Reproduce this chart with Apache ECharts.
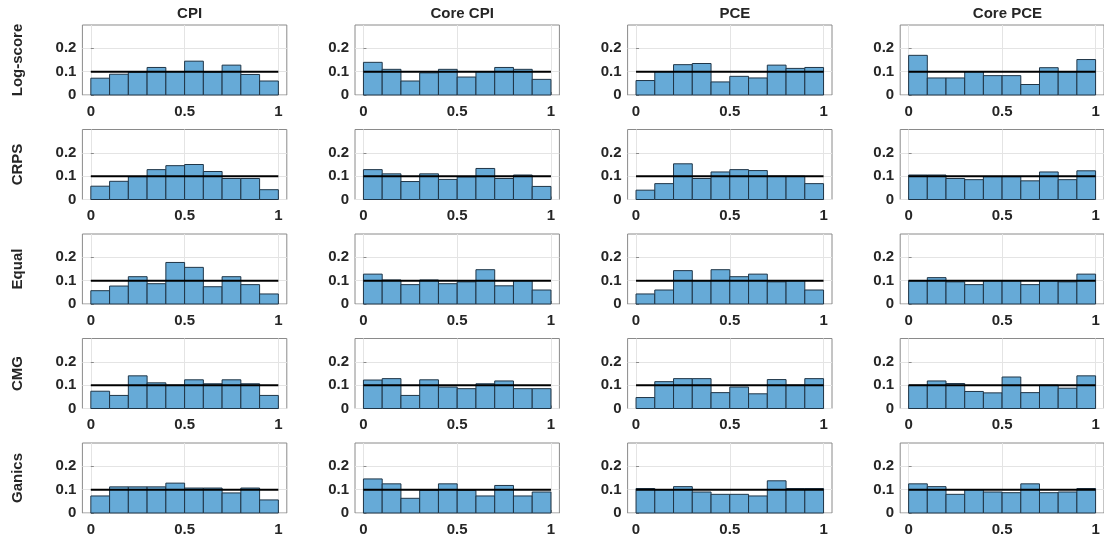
<!DOCTYPE html>
<html>
<head>
<meta charset="utf-8">
<script src="https://cdn.jsdelivr.net/npm/echarts@6/dist/echarts.min.js"></script>
<style>
  html, body { margin: 0; padding: 0; background: #fff; }
  #chart { width: 1104px; height: 537px; }
</style>
</head>
<body>
<div id="chart"></div>
<script>
// column / row titles
const targets = ['CPI', 'Core CPI', 'PCE', 'Core PCE']
const methods = ['Log-score', 'CRPS', 'Equal', 'CMG', 'Ganics']

// PIT histogram bins and ticks
const binEdges = [0, 0.1, 0.2, 0.3, 0.4, 0.5, 0.6, 0.7, 0.8, 0.9, 1]
const xTicks = [0, 0.5, 1]
const yTicks = [0, 0.1, 0.2]
const uniformLevel = 0.1

// relative frequencies per bin
const logScoreCPI = [0.072, 0.089, 0.098, 0.118, 0.1, 0.145, 0.098, 0.128, 0.088, 0.06]
const logScoreCoreCPI = [0.14, 0.11, 0.06, 0.095, 0.11, 0.077, 0.1, 0.118, 0.11, 0.067]
const logScorePCE = [0.062, 0.1, 0.13, 0.135, 0.056, 0.08, 0.073, 0.128, 0.114, 0.118]
const logScoreCorePCE = [0.17, 0.073, 0.073, 0.1, 0.083, 0.083, 0.045, 0.117, 0.1, 0.152]

const crpsCPI = [0.057, 0.078, 0.098, 0.128, 0.145, 0.15, 0.12, 0.09, 0.09, 0.042]
const crpsCoreCPI = [0.128, 0.11, 0.077, 0.11, 0.086, 0.097, 0.133, 0.09, 0.105, 0.056]
const crpsPCE = [0.04, 0.068, 0.153, 0.09, 0.118, 0.128, 0.124, 0.1, 0.1, 0.068]
const crpsCorePCE = [0.105, 0.105, 0.09, 0.085, 0.098, 0.098, 0.08, 0.118, 0.085, 0.123]

const equalCPI = [0.057, 0.077, 0.117, 0.087, 0.178, 0.157, 0.074, 0.117, 0.083, 0.043]
const equalCoreCPI = [0.128, 0.103, 0.083, 0.103, 0.087, 0.095, 0.147, 0.078, 0.1, 0.06]
const equalPCE = [0.043, 0.06, 0.143, 0.1, 0.147, 0.117, 0.128, 0.095, 0.1, 0.06]
const equalCorePCE = [0.1, 0.113, 0.095, 0.083, 0.1, 0.1, 0.083, 0.1, 0.095, 0.128]

const cmgCPI = [0.074, 0.056, 0.14, 0.11, 0.1, 0.123, 0.106, 0.123, 0.106, 0.056]
const cmgCoreCPI = [0.122, 0.128, 0.056, 0.123, 0.092, 0.085, 0.106, 0.118, 0.085, 0.085]
const cmgPCE = [0.047, 0.115, 0.128, 0.128, 0.068, 0.092, 0.063, 0.124, 0.1, 0.128]
const cmgCorePCE = [0.1, 0.118, 0.107, 0.073, 0.067, 0.135, 0.068, 0.1, 0.087, 0.14]

const ganicsCPI = [0.073, 0.112, 0.112, 0.112, 0.128, 0.107, 0.107, 0.086, 0.107, 0.056]
const ganicsCoreCPI = [0.146, 0.125, 0.063, 0.097, 0.125, 0.097, 0.073, 0.118, 0.073, 0.09]
const ganicsPCE = [0.105, 0.1, 0.113, 0.09, 0.08, 0.08, 0.073, 0.138, 0.105, 0.105]
const ganicsCorePCE = [0.125, 0.113, 0.08, 0.1, 0.09, 0.087, 0.125, 0.087, 0.09, 0.105]

const panels = [
  [logScoreCPI, logScoreCoreCPI, logScorePCE, logScoreCorePCE],
  [crpsCPI, crpsCoreCPI, crpsPCE, crpsCorePCE],
  [equalCPI, equalCoreCPI, equalPCE, equalCorePCE],
  [cmgCPI, cmgCoreCPI, cmgPCE, cmgCorePCE],
  [ganicsCPI, ganicsCoreCPI, ganicsPCE, ganicsCorePCE]
]

// layout
const gridLeft0 = 82.4, colStep = 272.6, gridWidth = 204.4
const gridTop0 = 25, rowStep = 104.5, gridHeight = 70
const labelFont = { fontFamily: 'Liberation Sans, Arial, sans-serif', fontWeight: 'bold', color: '#262626' }

const chart = echarts.init(document.getElementById('chart'))

const grid = [], xAxis = [], yAxis = [], series = [], title = []

targets.forEach((t, c) => {
  title.push({
    text: t,
    left: gridLeft0 + c * colStep + gridWidth / 2,
    top: 1,
    textAlign: 'center',
    textStyle: Object.assign({ fontSize: 15 }, labelFont)
  })
})

panels.forEach((row, r) => {
  row.forEach((vals, c) => {
    const idx = grid.length
    grid.push({
      left: gridLeft0 + c * colStep,
      top: gridTop0 + r * rowStep,
      width: gridWidth,
      height: gridHeight,
      show: true,
      borderColor: '#8a8a8a',
      borderWidth: 1,
      containLabel: false
    })
    xAxis.push({
      type: 'value',
      gridIndex: idx,
      min: -0.045,
      max: 1.045,
      axisLine: { show: false },
      axisTick: { show: true, inside: true, length: 3, customValues: xTicks, lineStyle: { color: '#8a8a8a' } },
      axisLabel: Object.assign({ customValues: xTicks, fontSize: 15, margin: 9, formatter: v => String(v) }, labelFont),
      splitLine: { show: true, lineStyle: { color: '#e4e4e4', width: 1 } }
    })
    yAxis.push({
      type: 'value',
      gridIndex: idx,
      min: 0,
      max: 0.3,
      name: c === 0 ? methods[r] : '',
      nameLocation: 'middle',
      nameRotate: 90,
      nameGap: 57,
      nameTextStyle: Object.assign({ fontSize: 15 }, labelFont),
      axisLine: { show: false },
      axisTick: { show: true, inside: true, length: 3, customValues: yTicks, lineStyle: { color: '#8a8a8a' } },
      axisLabel: Object.assign({ customValues: yTicks, fontSize: 15, margin: 6, formatter: v => String(v) }, labelFont),
      splitLine: { show: true, lineStyle: { color: '#e4e4e4', width: 1 } }
    })
    series.push({
      type: 'custom',
      xAxisIndex: idx,
      yAxisIndex: idx,
      encode: { x: [0, 1], y: 2 },
      data: vals.map((v, i) => [binEdges[i], binEdges[i + 1], v]),
      renderItem(params, api) {
        const p0 = api.coord([api.value(0), api.value(2)])
        const p1 = api.coord([api.value(1), 0])
        return {
          type: 'rect',
          shape: { x: p0[0], y: p0[1], width: p1[0] - p0[0], height: p1[1] - p0[1] },
          style: { fill: '#66aad7', stroke: '#1f3547', lineWidth: 1 }
        }
      },
      silent: true,
      z: 2
    })
    series.push({
      type: 'line',
      xAxisIndex: idx,
      yAxisIndex: idx,
      data: [[binEdges[0], uniformLevel], [binEdges[binEdges.length - 1], uniformLevel]],
      symbol: 'none',
      lineStyle: { color: '#000', width: 2 },
      silent: true,
      z: 3
    })
  })
})

chart.setOption({
  backgroundColor: '#fff',
  animation: false,
  title: title,
  grid: grid,
  xAxis: xAxis,
  yAxis: yAxis,
  series: series
})
</script>
</body>
</html>
